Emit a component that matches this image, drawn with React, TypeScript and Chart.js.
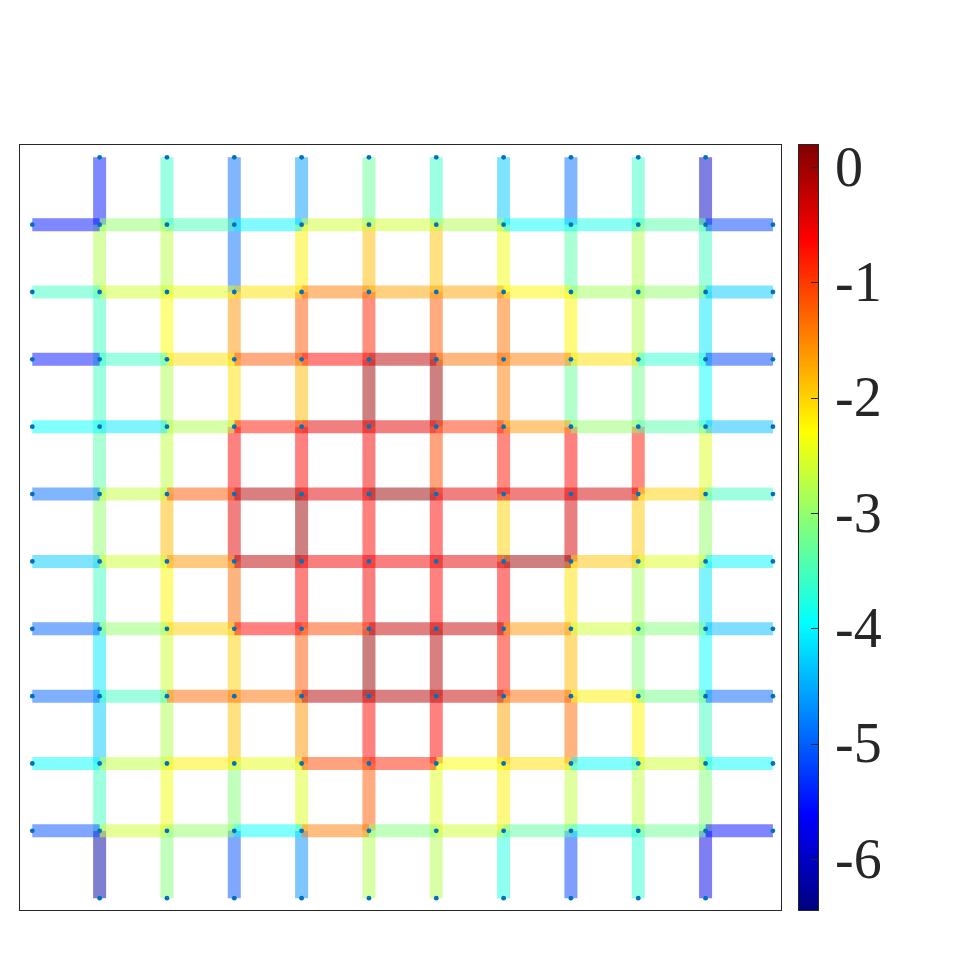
import React, { useEffect, useRef } from "react";
import { Chart, registerables } from "chart.js";

Chart.register(...registerables);

// colour scale limits and colorbar tick labels
const V_MIN = -6.45;
const V_MAX = 0.2;
const CB_TICKS = [-6, -5, -4, -3, -2, -1, 0];

// horizontal edges, one row per grid row (top to bottom),
// from the left stub to the right stub (11 edges per row)
const hRow1 = [-5.5, -3.0, -3.5, -4.0, -2.6, -2.6, -2.8, -3.95, -3.8, -3.4, -5.2];
const hRow2 = [-3.55, -2.6, -2.45, -2.1, -1.45, -1.7, -1.7, -2.25, -2.9, -3.0, -4.3];
const hRow3 = [-5.5, -3.6, -2.1, -1.2, -0.65, -0.2, -1.35, -1.45, -2.1, -3.65, -5.2];
const hRow4 = [-3.95, -4.1, -2.8, -0.75, -0.45, -0.45, -0.95, -1.6, -3.0, -3.4, -4.4];
const hRow5 = [-4.9, -2.7, -1.2, -0.15, -0.45, 0.05, -0.45, -0.45, -0.35, -2.0, -3.55];
const hRow6 = [-4.3, -2.6, -1.6, -0.2, -0.55, -0.55, -0.45, 0.0, -1.9, -2.5, -4.0];
const hRow7 = [-5.0, -3.0, -2.0, -0.65, -1.1, -0.25, -0.25, -1.6, -2.6, -3.1, -4.4];
const hRow8 = [-5.0, -3.55, -1.3, -1.35, -0.15, -0.15, -0.25, -1.3, -2.2, -3.2, -5.0];
const hRow9 = [-3.95, -2.7, -2.2, -2.45, -1.1, -0.85, -2.3, -2.1, -3.95, -2.6, -3.95];
const hRow10 = [-5.1, -2.6, -3.0, -3.95, -1.45, -3.1, -2.6, -3.35, -3.75, -3.25, -5.55];

// vertical edges, one list per grid column (left to right),
// from the top stub to the bottom stub (11 edges per column)
const vCol1 = [-5.5, -2.8, -3.55, -3.55, -3.4, -3.0, -3.55, -4.1, -4.3, -3.55, -6.2];
const vCol2 = [-3.6, -2.75, -2.3, -2.8, -2.7, -1.85, -2.25, -2.6, -2.8, -2.4, -3.1];
const vCol3 = [-4.9, -4.9, -1.6, -2.1, -0.65, -0.45, -1.3, -2.0, -1.9, -3.1, -5.1];
const vCol4 = [-4.6, -2.2, -1.2, -1.85, -0.65, 0.0, -0.65, -1.2, -1.6, -2.5, -4.7];
const vCol5 = [-3.3, -1.85, -0.85, 0.0, -0.55, -0.65, -0.55, 0.05, -0.65, -1.2, -2.8];
const vCol6 = [-3.6, -1.9, -1.2, 0.0, -1.1, -0.65, -0.65, -0.15, -0.65, -2.5, -2.8];
const vCol7 = [-4.3, -2.4, -1.35, -1.45, -0.75, -2.0, -0.65, -0.75, -1.7, -2.2, -3.75];
const vCol8 = [-4.9, -3.4, -2.25, -3.3, -0.65, -0.35, -2.1, -1.85, -1.3, -2.7, -5.2];
const vCol9 = [-3.6, -2.8, -2.8, -3.2, -0.75, -1.95, -2.9, -3.1, -2.25, -2.7, -3.65];
const vCol10 = [-6.0, -3.55, -4.1, -3.95, -2.5, -3.0, -4.1, -3.95, -3.55, -3.1, -5.8];

const H_ROWS = [hRow1, hRow2, hRow3, hRow4, hRow5, hRow6, hRow7, hRow8, hRow9, hRow10];
const V_COLS = [vCol1, vCol2, vCol3, vCol4, vCol5, vCol6, vCol7, vCol8, vCol9, vCol10];

function clamp01(v: number) {
  return Math.max(0, Math.min(1, v));
}

function jet(v: number, alpha: number) {
  const t = clamp01((v - V_MIN) / (V_MAX - V_MIN));
  const r = clamp01(Math.min(4 * t - 1.5, -4 * t + 4.5));
  const g = clamp01(Math.min(4 * t - 0.5, -4 * t + 3.5));
  const b = clamp01(Math.min(4 * t + 0.5, -4 * t + 2.5));
  return `rgba(${Math.round(r * 255)},${Math.round(g * 255)},${Math.round(b * 255)},${alpha})`;
}

const framePlugin = {
  id: "frameAndColorbar",
  afterDraw(chart: any) {
    const { ctx, chartArea: a } = chart;
    const cb = chart.scales.cb;
    ctx.save();
    ctx.strokeStyle = "#262626";
    ctx.lineWidth = 1;
    ctx.strokeRect(a.left + 0.5, a.top + 0.5, a.right - a.left - 1, a.bottom - a.top - 1);

    const x0 = Math.round(cb.left + 16);
    const w = 20;
    for (let y = Math.floor(cb.top); y < Math.ceil(cb.bottom); y++) {
      const v = cb.getValueForPixel(y + 0.5);
      ctx.fillStyle = jet(v, 1);
      ctx.fillRect(x0, y, w, 1);
    }
    ctx.strokeStyle = "#262626";
    ctx.strokeRect(x0 + 0.5, Math.floor(cb.top) + 0.5, w, Math.ceil(cb.bottom) - Math.floor(cb.top) - 1);
    for (const t of CB_TICKS) {
      const y = Math.round(cb.getPixelForValue(t)) + 0.5;
      ctx.beginPath();
      ctx.moveTo(x0 + w, y);
      ctx.lineTo(x0 + w - 7, y);
      ctx.stroke();
    }
    ctx.restore();
  },
};

export default function App() {
  const ref = useRef<HTMLCanvasElement>(null);

  useEffect(() => {
    if (!ref.current) return;
    const datasets: any[] = [];

    const dots: { x: number; y: number }[] = [];
    for (let r = 1; r <= 10; r++) {
      for (let c = 1; c <= 10; c++) dots.push({ x: c, y: r });
    }
    for (let k = 1; k <= 10; k++) {
      dots.push({ x: 0, y: k }, { x: 11, y: k }, { x: k, y: 0 }, { x: k, y: 11 });
    }
    datasets.push({
      type: "scatter",
      data: dots,
      pointRadius: 2.4,
      pointBackgroundColor: "#0072BD",
      pointBorderWidth: 0,
      showLine: false,
    });

    H_ROWS.forEach((row, ri) => {
      row.forEach((v, k) => {
        datasets.push({
          type: "scatter",
          data: [
            { x: k, y: ri + 1 },
            { x: k + 1, y: ri + 1 },
          ],
          showLine: true,
          borderColor: jet(v, 0.5),
          borderWidth: 13,
          borderCapStyle: "butt",
          pointRadius: 0,
        });
      });
    });
    V_COLS.forEach((col, ci) => {
      col.forEach((v, k) => {
        datasets.push({
          type: "scatter",
          data: [
            { x: ci + 1, y: k },
            { x: ci + 1, y: k + 1 },
          ],
          showLine: true,
          borderColor: jet(v, 0.5),
          borderWidth: 13,
          borderCapStyle: "butt",
          pointRadius: 0,
        });
      });
    });

    const chart = new Chart(ref.current, {
      type: "scatter",
      data: { datasets },
      plugins: [framePlugin],
      options: {
        animation: false,
        responsive: false,
        events: [],
        layout: { padding: { left: 11, top: 136, bottom: 41, right: 0 } },
        plugins: { legend: { display: false }, tooltip: { enabled: false } },
        scales: {
          x: { type: "linear", display: false, min: -0.1975, max: 11.135 },
          y: { type: "linear", display: false, reverse: true, min: -0.1975, max: 11.19 },
          cb: {
            type: "linear",
            position: "right",
            axis: "y",
            min: V_MIN,
            max: V_MAX,
            grid: { display: false, drawTicks: false },
            border: { display: false },
            afterBuildTicks: (s: any) => {
              s.ticks = CB_TICKS.map((value) => ({ value }));
            },
            afterFit: (s: any) => {
              s.width = 170;
              s.paddingTop = 0;
              s.paddingBottom = 0;
            },
            ticks: {
              padding: 53,
              labelOffset: 4,
              autoSkip: false,
              color: "#262626",
              font: { family: "'Liberation Serif', 'Times New Roman', serif", size: 56 },
              callback: (v: any) => String(v),
            },
          },
        } as any,
      },
    } as any);
    return () => chart.destroy();
  }, []);

  return <canvas ref={ref} width={944} height={944} style={{ display: "block" }} />;
}
